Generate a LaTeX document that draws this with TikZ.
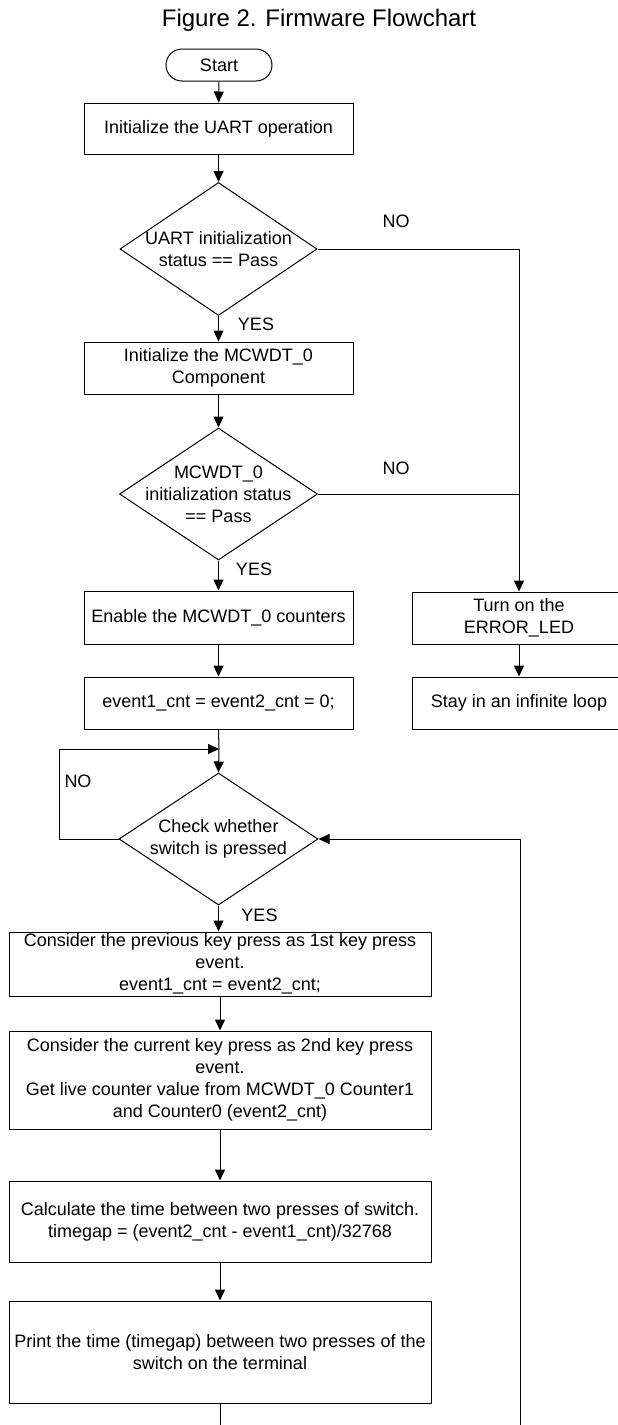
\documentclass[tikz,border=0pt]{standalone}
\usepackage{fontspec}
\setmainfont{Liberation Sans}
\usetikzlibrary{shapes.geometric,arrows.meta}

\begin{document}
\begin{tikzpicture}[x=1pt,y=-1pt,line width=1pt,
    every node/.style={font=\fontsize{18}{22}\selectfont},
    proc/.style={draw,align=center,inner sep=0pt,minimum width=269pt},
    longproc/.style={proc,minimum width=422pt},
    sideproc/.style={proc,minimum width=214pt,minimum height=52pt},
    decision/.style={draw,diamond,inner sep=0pt},
    flow/.style={-{Triangle[length=11pt,width=10pt]}}]
    \useasboundingbox (0,0) rectangle (618,1425);
    \clip (0,0) rectangle (618,1425);
    \node[anchor=base,font=\fontsize{24}{28}\selectfont] (title) at (319,26) {Figure 2. Firmware Flowchart};

    % main column
    \node[draw,rounded corners=16pt,minimum width=106pt,minimum height=32pt,inner sep=0pt] (start) at (219,65) {Start};
    \node[proc,minimum height=51pt] (uart) at (218.5,128.5) {Initialize the UART operation};
    \node[decision,minimum width=197pt,minimum height=133pt] (uartok) at (218.5,249) {};
    \node[align=center] (uartoktext) at (uartok) {UART initialization\\status == Pass};
    \node[proc,minimum height=52pt] (mcwdt) at (218.5,368) {Initialize the MCWDT\_0\\Component};
    \node[decision,minimum width=198pt,minimum height=132pt] (mcwdtok) at (218.5,494) {};
    \node[align=center] (mcwdtoktext) at (mcwdtok) {MCWDT\_0\\initialization status\\== Pass};
    \node[proc,minimum height=53pt] (enable) at (218.5,617.5) {Enable the MCWDT\_0 counters};
    \node[proc,minimum height=52pt] (clear) at (218.5,703) {event1\_cnt = event2\_cnt = 0;};
    \coordinate (loopin) at (219,749);
    \node[decision,minimum width=199pt,minimum height=132pt] (pressed) at (218.5,839) {};
    \node[align=center] (pressedtext) at (pressed) {Check whether\\switch is pressed};
    \node[longproc,minimum height=64pt] (firstkey) at (220,964) {Consider the previous key press as 1st key press\\event.\\event1\_cnt = event2\_cnt;};
    \node[longproc,minimum height=98pt] (secondkey) at (220,1080) {Consider the current key press as 2nd key press\\event.\\Get live counter value from MCWDT\_0 Counter1\\and Counter0 (event2\_cnt)};
    \node[longproc,minimum height=81pt] (calcgap) at (220,1221.5) {Calculate the time between two presses of switch.\\timegap = (event2\_cnt - event1\_cnt)/32768};
    \node[longproc,minimum height=102pt] (printgap) at (220,1352) {Print the time (timegap) between two presses of the\\switch on the terminal};
    \coordinate (printout) at (220,1425);
    \coordinate (backin) at (520,1425);

    % error branch
    \node[sideproc] (errled) at (519,618) {Turn on the\\ERROR\_LED};
    \node[sideproc] (stay) at (519,703) {Stay in an infinite loop};

    % labels
    \node (no1) at (396,221) {NO};
    \node (yes1) at (256,324) {YES};
    \node (no2) at (396,468.5) {NO};
    \node (yes2) at (254,569) {YES};
    \node (no3) at (78,781) {NO};
    \node (yes3) at (259.5,915) {YES};

    \draw[flow] (start) -- (uart);
    \draw[flow] (uart) -- (uartok);
    \draw[flow] (uartok) -- (mcwdt);
    \draw[flow] (mcwdt) -- (mcwdtok);
    \draw[flow] (mcwdtok) -- (enable);
    \draw[flow] (enable) -- (clear);
    \draw (clear.south) -- (loopin);
    \draw[flow] (loopin) -- (pressed.north);
    \draw[flow] (pressed.west) -- ++(-59,0) |- (loopin);
    \draw[flow] (pressed.south) -- (pressed.south |- firstkey.north);
    \draw[flow] (firstkey) -- (secondkey);
    \draw[flow] (secondkey) -- (calcgap);
    \draw[flow] (calcgap) -- (printgap);
    \draw (printgap.south) -- (printout);
    \draw[flow] (backin) |- (pressed.east);

    \draw[flow] (uartok.east) -| (errled.north);
    \draw (mcwdtok.east) -- (mcwdtok.east -| errled.north);
    \draw[flow] (errled) -- (stay);
\end{tikzpicture}
\end{document}
